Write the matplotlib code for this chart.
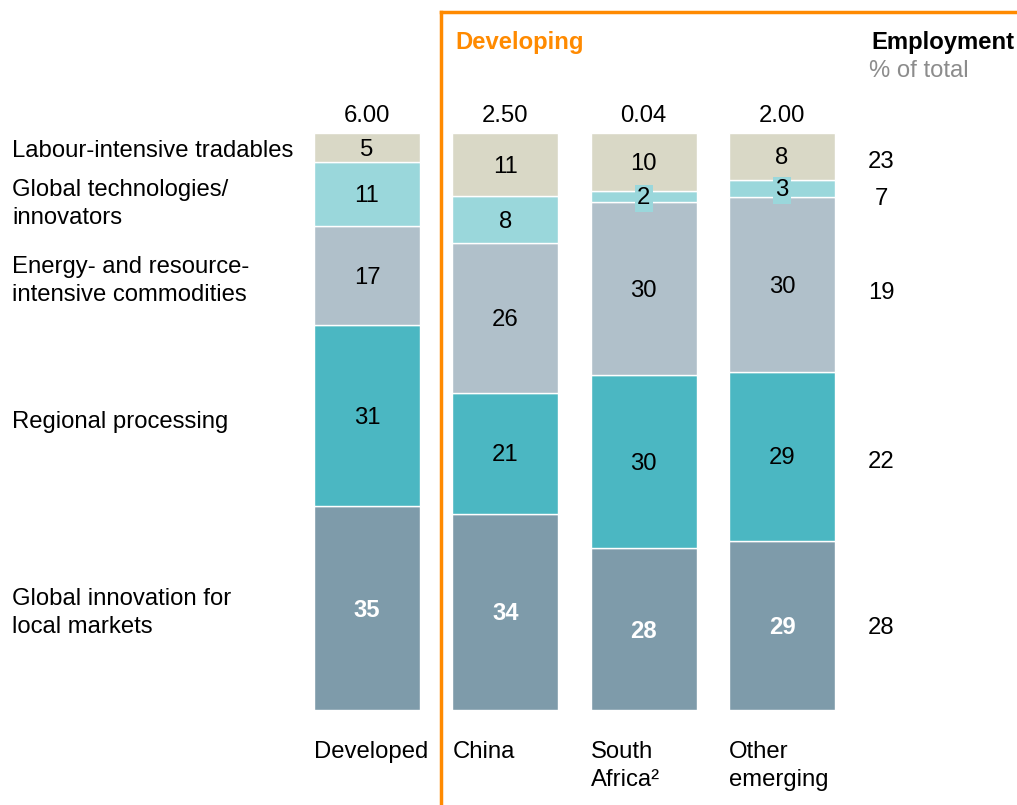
import numpy as np
import matplotlib.pyplot as plt
from matplotlib.lines import Line2D
import matplotlib.transforms as mtransforms

plt.rcParams['font.family'] = ['Liberation Sans', 'DejaVu Sans']

# data
groups = ['Developed', 'China', 'South\nAfrica²', 'Other\nemerging']
totals = ['6.00', '2.50', '0.04', '2.00']
segments = ['Global innovation for\nlocal markets', 'Regional processing',
            'Energy- and resource-\nintensive commodities',
            'Global technologies/\ninnovators', 'Labour-intensive tradables']
innovation = [35, 34, 28, 29]
regional = [31, 21, 30, 29]
energy = [17, 26, 30, 30]
globaltech = [11, 8, 2, 3]
labour = [5, 11, 10, 8]
employment = [28, 22, 19, 7, 23]

colors = ['#7E9BAA', '#4BB7C2', '#B0C0CA', '#9AD7DB', '#D9D8C6']
orange = '#FF8A00'
fs = 17.2

W, H = 1017, 805
fig = plt.figure(figsize=(W / 100, H / 100), dpi=100)

def fx(px):
    return px / W

def fy(py):
    return 1 - py / H

ax = fig.add_axes([fx(297.75), fy(710), fx(553.5), 577 / H])
ax.set_xlim(-0.5, 3.5)
ax.set_ylim(0, 100)
ax.axis('off')

data = np.array([innovation, regional, energy, globaltech, labour], dtype=float)
shares = data / data.sum(axis=0) * 100
x = np.arange(len(groups))
width = 0.765
bottom = np.zeros(len(groups))
for k in range(len(segments)):
    ax.bar(x, shares[k], width, bottom=bottom, color=colors[k],
           edgecolor='white', linewidth=1)
    for i in range(len(groups)):
        yc = bottom[i] + shares[k][i] / 2 - 0.35
        if k == 0:
            ax.text(x[i], yc, str(int(data[k][i])), ha='center', va='center',
                    fontsize=fs, color='white', fontweight='bold')
        elif data[k][i] < 5:
            ax.text(x[i], yc, str(int(data[k][i])), ha='center', va='center',
                    fontsize=fs, color='black',
                    bbox=dict(facecolor=colors[k], edgecolor='none', pad=1.5))
        else:
            ax.text(x[i], yc, str(int(data[k][i])), ha='center', va='center',
                    fontsize=fs, color='black')
    bottom += shares[k]

# totals on top
for i in range(len(groups)):
    ax.text(x[i], 102.9, totals[i], ha='center', va='center', fontsize=fs)

# group labels under bars
trans = mtransforms.blended_transform_factory(ax.transData, fig.transFigure)
for i in range(len(groups)):
    ax.text(x[i] - width / 2, fy(741), groups[i], transform=trans,
            ha='left', va='top', fontsize=fs, linespacing=1.38)

# left segment labels and employment column
label_y = [613, 422, 281, 204, 151]
emp_y = [628, 462, 293, 199, 162]
for k in range(len(segments)):
    fig.text(fx(12), fy(label_y[k]), segments[k], ha='left', va='center',
             fontsize=fs, linespacing=1.32)
    fig.text(fx(881), fy(emp_y[k]), str(employment[k]), ha='center',
             va='center', fontsize=fs)

fig.text(fx(871), fy(43), 'Employment', ha='left', va='center',
         fontsize=fs, fontweight='bold')
fig.text(fx(869), fy(71), '% of total', ha='left', va='center',
         fontsize=fs, color='#8C8C8C')
fig.text(fx(455), fy(43), 'Developing', ha='left', va='center',
         fontsize=fs, fontweight='bold', color=orange)

# orange bracket
fig.add_artist(Line2D([fx(441), fx(441)], [fy(12), 0], color=orange, lw=2.5,
                      transform=fig.transFigure))
fig.add_artist(Line2D([fx(441), 1], [fy(12), fy(12)], color=orange, lw=2.5,
                      transform=fig.transFigure, solid_capstyle='projecting'))

fig.savefig('out.png', dpi=100)
